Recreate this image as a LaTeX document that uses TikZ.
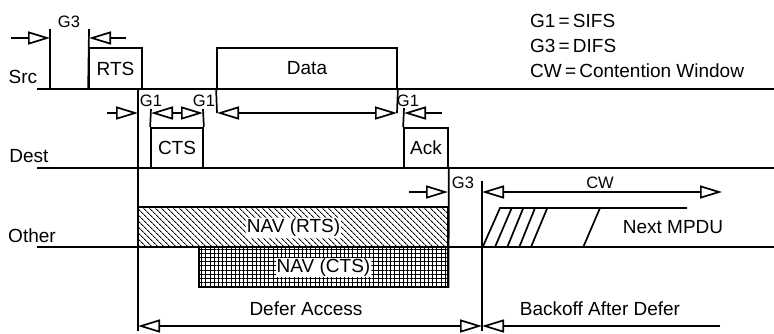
\documentclass[tikz,border=0pt]{standalone}
\usepackage{fontspec}
\setmainfont{Liberation Sans}
\usetikzlibrary{arrows.meta,patterns.meta}
\begin{document}
\begin{tikzpicture}[x=1pt,y=-1pt,
  ln/.style={line width=1.7pt},
  tri/.style={ln,-{Triangle[open,length=22pt,width=13pt]}},
  dtri/.style={ln,{Triangle[open,length=22pt,width=13pt]}-{Triangle[open,length=22pt,width=13pt]}},
  lbl/.style={font=\fontsize{19}{22}\selectfont, inner sep=0pt},
  sm/.style={font=\fontsize{16.5}{19}\selectfont, inner sep=0pt},
  framebox/.style={draw, line width=1.7pt, inner sep=0pt, font=\fontsize{19}{22}\selectfont},
  navrts/.style={draw, line width=1.7pt, pattern={Lines[angle=-45,distance=4pt,line width=1pt]}},
  navcts/.style={draw, line width=1.7pt, pattern={Hatch[distance=4.2pt,line width=1pt]}},
  navlbl/.style={fill=white, inner sep=1pt, font=\fontsize{19}{22}\selectfont},
]
\useasboundingbox (0,0) rectangle (774,333);

% time lines
\coordinate (srcL) at (37,89);  \coordinate (srcR) at (774,89);
\coordinate (dstL) at (37,168); \coordinate (dstR) at (774,168);
\coordinate (othL) at (37,247); \coordinate (othR) at (774,247);
\draw[ln] (srcL) -- (srcR);
\draw[ln] (dstL) -- (dstR);
\draw[ln] (othL) -- (othR);

\node[lbl, anchor=base] (src) at (23,83) {Src};
\node[lbl, anchor=base] (dst) at (29,162) {Dest};
\node[lbl, anchor=base] (oth) at (32,242) {Other};

% frames
\node[framebox, minimum width=53pt, minimum height=41pt] (rts) at (115.5,68.5) {RTS};
\node[framebox, minimum width=180pt, minimum height=41pt] (data) at (307,68.5) {Data};
\node[framebox, minimum width=52pt, minimum height=40pt] (cts) at (177,148) {CTS};
\node[framebox, minimum width=44pt, minimum height=40pt] (ack) at (426,148) {Ack};

% NAV
\node[navrts, minimum width=310pt, minimum height=40pt] (navr) at (293,227) {};
\node[navcts, minimum width=249pt, minimum height=40pt] (navc) at (323.5,267) {};
\node[navlbl] (navrl) at (293.5,228) {NAV (RTS)};
\node[navlbl] (navcl) at (323.5,267.5) {NAV (CTS)};

% verticals
\draw[ln] (50,29) -- (50,89);
\draw[ln] (89,29) -- (rts.south west);
\draw[ln] (138,89) -- (138,331);
\draw[ln] (151,109) -- (cts.north west);
\draw[ln] (203,109) -- (cts.north east);
\draw[ln] (data.south west) -- (217,113);
\draw[ln] (data.south east) -- (397,113);
\draw[ln] (404,108) -- (ack.north west);
\draw[ln] (ack.south east) -- (navc.south east);
\draw[ln] (482,181) -- (482,331);

% G3 (top)
\node[sm] (g3a) at (69,22) {G3};
\draw[tri] (11,38) -- (50,38);
\draw[tri] (126,38) -- (89,38);

% G1 row
\node[sm] (g1a) at (151,101) {G1};
\node[sm] (g1b) at (204,101) {G1};
\node[sm] (g1c) at (408,101) {G1};
\draw[tri] (107,113) -- (138,113);
\draw[dtri] (151,113) -- (203,113);
\draw[dtri] (217,113) -- (397,113);
\draw[tri] (442,113) -- (404,113);

% G3 / CW (other)
\node[sm] (g3b) at (463,183) {G3};
\node[sm] (cw) at (600,183) {CW};
\draw[tri] (409,192) -- (448,192);
\draw[dtri] (482,192) -- (722,192);

% Next MPDU
\draw[ln] (482.7,247) -- (500,208) -- (687,208);
\draw[ln] (495,247) -- (511.7,208);
\draw[ln] (507.3,247) -- (523.3,208);
\draw[ln] (519.3,247) -- (535,208);
\draw[ln] (531,247) -- (547.3,208);
\draw[ln] (583.3,247) -- (600,208);
\node[lbl, anchor=base] (mpdu) at (673,233) {Next MPDU};

% Defer / Backoff
\node[lbl, anchor=base] (defer) at (306,315) {Defer Access};
\node[lbl, anchor=base] (backoff) at (600,315) {Backoff After Defer};
\draw[dtri] (138,326) -- (482,326);
\draw[tri] (720,326) -- (482,326);

% legend
\node[lbl, anchor=base west] (leg1) at (530,27) {G1\,=\,SIFS};
\node[lbl, anchor=base west] (leg2) at (530,52) {G3\,=\,DIFS};
\node[lbl, anchor=base west] (leg3) at (530,77) {CW\,=\,Contention Window};
\end{tikzpicture}
\end{document}
